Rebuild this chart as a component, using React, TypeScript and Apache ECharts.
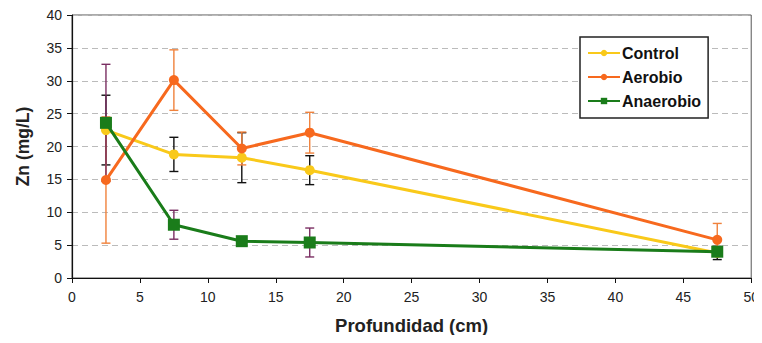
import React, { useEffect, useRef } from "react";
import * as echarts from "echarts";

const depths = [2.5, 7.5, 12.5, 17.5, 47.5];
const controlMean = [22.5, 18.8, 18.3, 16.4, 3.8];
const controlErr = [5.3, 2.6, 3.8, 2.2, 1.0];
const aerobioMean = [14.9, 30.1, 19.7, 22.1, 5.8];
const aerobioErr = [9.6, 4.6, 2.5, 3.1, 2.5];
const anaerobioMean = [23.6, 8.1, 5.6, 5.4, 4.0];
const anaerobioErr = [8.9, 2.2, 0.4, 2.2, 0.6];

const C_CONTROL = "#F9C91A";
const C_AEROBIO = "#F7691E";
const C_ANAEROBIO = "#1A7C1A";

const pts = (m: number[]) => depths.map((d, i) => [d, m[i]]);
const errs = (m: number[], e: number[]) => depths.map((d, i) => [d, m[i] - e[i], m[i] + e[i]]);

function errSeries(name: string, data: number[][], color: string) {
  return {
    type: "custom",
    name: name + "_err",
    data,
    z: 1,
    encode: { x: 0, y: [1, 2] },
    silent: true,
    renderItem: (params: any, api: any) => {
      const x = api.value(0);
      const lo = api.value(1);
      const hi = api.value(2);
      const p1 = api.coord([x, hi]);
      const p2 = api.coord([x, lo]);
      const w = 4.5;
      const st = { stroke: color, lineWidth: 1.4 };
      return {
        type: "group",
        children: [
          { type: "line", shape: { x1: p1[0], y1: p1[1], x2: p2[0], y2: p2[1] }, style: st },
          { type: "line", shape: { x1: p1[0] - w, y1: p1[1], x2: p1[0] + w, y2: p1[1] }, style: st },
          { type: "line", shape: { x1: p2[0] - w, y1: p2[1], x2: p2[0] + w, y2: p2[1] }, style: st },
        ],
      };
    },
  };
}

export default function App() {
  const ref = useRef<HTMLDivElement>(null);
  useEffect(() => {
    const chart = echarts.init(ref.current!, undefined, { renderer: "svg" });
    const font = "Liberation Sans, Arial, sans-serif";
    chart.setOption({
      animation: false,
      textStyle: { fontFamily: font },
      grid: {
        left: 72,
        right: 8,
        top: 15,
        bottom: 65,
        show: true,
        borderColor: "#555",
        borderWidth: 1,
      },
      legend: {
        orient: "vertical",
        left: 580,
        top: 37,
        padding: [7, 7, 8, 7],
        itemWidth: 32,
        itemHeight: 8,
        itemGap: 6,
        borderColor: "#222",
        borderWidth: 1.5,
        backgroundColor: "#fff",
        data: ["Control", "Aerobio", "Anaerobio"],
        textStyle: { fontFamily: font, fontWeight: "bold", fontSize: 16, color: "#111", padding: [0, 0, 0, -3], lineHeight: 18 },
      },
      xAxis: {
        type: "value",
        min: 0,
        max: 50,
        interval: 5,
        name: "Profundidad (cm)",
        nameLocation: "middle",
        nameGap: 38,
        nameTextStyle: { fontFamily: font, fontWeight: "bold", fontSize: 18.5, color: "#222" },
        axisLine: { show: true, onZero: false, lineStyle: { color: "#111", width: 1.2 } },
        axisTick: { show: true, length: 5, lineStyle: { color: "#111" } },
        axisLabel: { fontFamily: font, fontSize: 14, color: "#222", margin: 12 },
        splitLine: { show: false },
      },
      yAxis: {
        type: "value",
        min: 0,
        max: 40,
        interval: 5,
        name: "Zn (mg/L)",
        nameLocation: "middle",
        nameGap: 40,
        nameRotate: 90,
        nameTextStyle: { fontFamily: font, fontWeight: "bold", fontSize: 17.5, color: "#222" },
        axisLine: { show: true, lineStyle: { color: "#111", width: 1.2 } },
        axisTick: { show: true, length: 5, lineStyle: { color: "#111" } },
        axisLabel: { fontFamily: font, fontSize: 14, color: "#222", margin: 10 },
        splitLine: { show: true, lineStyle: { color: "#bbb", type: [6, 4], width: 1 } },
      },
      series: [
        errSeries("Control", errs(controlMean, controlErr), "#111"),
        errSeries("Aerobio", errs(aerobioMean, aerobioErr), "#F0823C"),
        errSeries("Anaerobio", errs(anaerobioMean, anaerobioErr), "#7A2E62"),
        {
          type: "line",
          name: "Control",
          data: pts(controlMean),
          z: 3,
          color: C_CONTROL,
          lineStyle: { width: 3, color: C_CONTROL },
          symbol: "circle",
          symbolSize: 10,
          itemStyle: { color: C_CONTROL },
        },
        {
          type: "line",
          name: "Aerobio",
          data: pts(aerobioMean),
          z: 3,
          color: C_AEROBIO,
          lineStyle: { width: 3, color: C_AEROBIO },
          symbol: "circle",
          symbolSize: 10,
          itemStyle: { color: C_AEROBIO },
        },
        {
          type: "line",
          name: "Anaerobio",
          data: pts(anaerobioMean),
          z: 4,
          color: C_ANAEROBIO,
          lineStyle: { width: 3, color: C_ANAEROBIO },
          symbol: "rect",
          symbolSize: 12,
          itemStyle: { color: C_ANAEROBIO },
        },
      ],
    });
    return () => chart.dispose();
  }, []);
  return <div ref={ref} style={{ width: 762, height: 343, margin: -8 }} />;
}
